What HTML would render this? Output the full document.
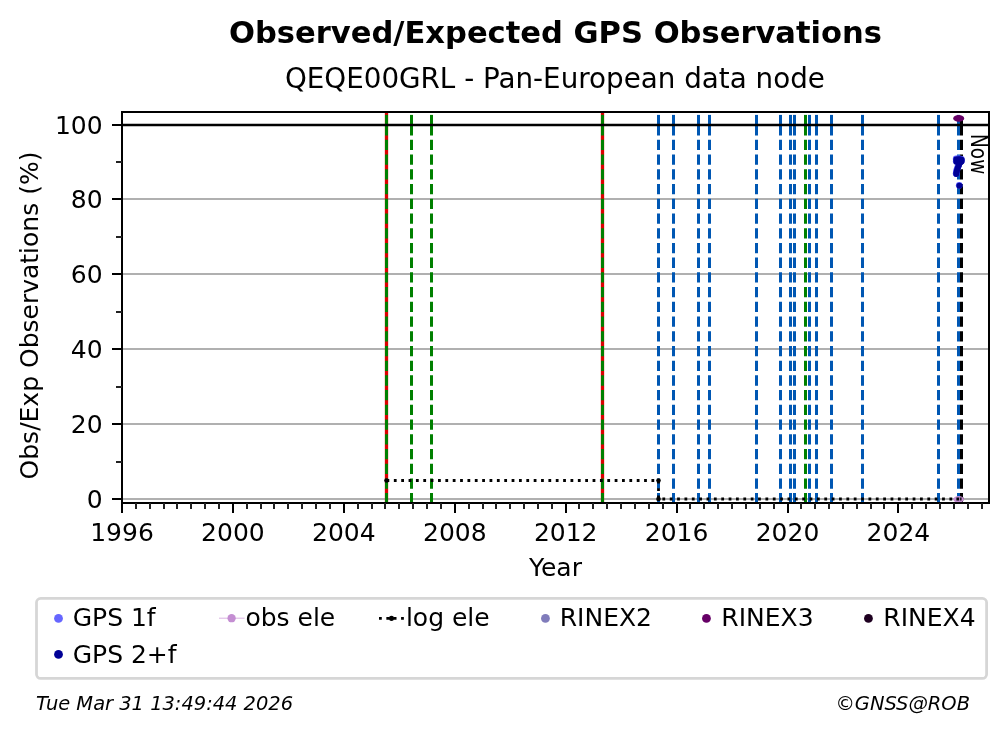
<!DOCTYPE html>
<html lang="en"><head><meta charset="utf-8"><title>Observed/Expected GPS Observations</title>
<style>html,body{margin:0;padding:0;background:#fff}svg{display:block;will-change:transform}</style></head>
<body>
<svg width="1008" height="734" viewBox="0 0 1008 734" font-family="'DejaVu Sans', 'Liberation Sans', sans-serif" fill="#000">
<rect width="1008" height="734" fill="#fff"/>
<g stroke="#b0b0b0" stroke-width="2" shape-rendering="crispEdges">
<line x1="122.0" x2="989.0" y1="199.0" y2="199.0"/>
<line x1="122.0" x2="989.0" y1="274.0" y2="274.0"/>
<line x1="122.0" x2="989.0" y1="349.0" y2="349.0"/>
<line x1="122.0" x2="989.0" y1="424.0" y2="424.0"/>
<line x1="122.0" x2="989.0" y1="499.0" y2="499.0"/>
</g>
<line x1="386.5" x2="386.5" y1="112.0" y2="503.0" stroke="#dc0000" stroke-width="3.3"/>
<line x1="602.5" x2="602.5" y1="112.0" y2="503.0" stroke="#dc0000" stroke-width="3.3"/>
<line x1="386.5" x2="386.5" y1="503.4" y2="125.1" stroke="#008000" stroke-width="3" stroke-dasharray="10.28 4.44"/>
<line x1="386.5" x2="386.5" y1="125.5" y2="114.9" stroke="#008000" stroke-width="3"/>
<line x1="602.5" x2="602.5" y1="503.4" y2="125.1" stroke="#008000" stroke-width="3" stroke-dasharray="10.28 4.44"/>
<line x1="602.5" x2="602.5" y1="125.5" y2="114.9" stroke="#008000" stroke-width="3"/>
<line x1="411.5" x2="411.5" y1="503.4" y2="125.1" stroke="#008000" stroke-width="3" stroke-dasharray="10.28 4.44"/>
<line x1="411.5" x2="411.5" y1="125.5" y2="114.9" stroke="#008000" stroke-width="3"/>
<line x1="431.5" x2="431.5" y1="503.4" y2="125.1" stroke="#008000" stroke-width="3" stroke-dasharray="10.28 4.44"/>
<line x1="431.5" x2="431.5" y1="125.5" y2="114.9" stroke="#008000" stroke-width="3"/>
<line x1="805.5" x2="805.5" y1="503.4" y2="125.1" stroke="#008000" stroke-width="3" stroke-dasharray="10.28 4.44"/>
<line x1="805.5" x2="805.5" y1="125.5" y2="114.9" stroke="#008000" stroke-width="3"/>
<line x1="658.5" x2="658.5" y1="503.4" y2="125.1" stroke="#0057b3" stroke-width="3" stroke-dasharray="10.28 4.44"/>
<line x1="658.5" x2="658.5" y1="125.5" y2="114.9" stroke="#0057b3" stroke-width="3"/>
<line x1="673.5" x2="673.5" y1="503.4" y2="125.1" stroke="#0057b3" stroke-width="3" stroke-dasharray="10.28 4.44"/>
<line x1="673.5" x2="673.5" y1="125.5" y2="114.9" stroke="#0057b3" stroke-width="3"/>
<line x1="698.5" x2="698.5" y1="503.4" y2="125.1" stroke="#0057b3" stroke-width="3" stroke-dasharray="10.28 4.44"/>
<line x1="698.5" x2="698.5" y1="125.5" y2="114.9" stroke="#0057b3" stroke-width="3"/>
<line x1="709.5" x2="709.5" y1="503.4" y2="125.1" stroke="#0057b3" stroke-width="3" stroke-dasharray="10.28 4.44"/>
<line x1="709.5" x2="709.5" y1="125.5" y2="114.9" stroke="#0057b3" stroke-width="3"/>
<line x1="756.5" x2="756.5" y1="503.4" y2="125.1" stroke="#0057b3" stroke-width="3" stroke-dasharray="10.28 4.44"/>
<line x1="756.5" x2="756.5" y1="125.5" y2="114.9" stroke="#0057b3" stroke-width="3"/>
<line x1="780.5" x2="780.5" y1="503.4" y2="125.1" stroke="#0057b3" stroke-width="3" stroke-dasharray="10.28 4.44"/>
<line x1="780.5" x2="780.5" y1="125.5" y2="114.9" stroke="#0057b3" stroke-width="3"/>
<line x1="790.5" x2="790.5" y1="503.4" y2="125.1" stroke="#0057b3" stroke-width="3" stroke-dasharray="10.28 4.44"/>
<line x1="790.5" x2="790.5" y1="125.5" y2="114.9" stroke="#0057b3" stroke-width="3"/>
<line x1="794.5" x2="794.5" y1="503.4" y2="125.1" stroke="#0057b3" stroke-width="3" stroke-dasharray="10.28 4.44"/>
<line x1="794.5" x2="794.5" y1="125.5" y2="114.9" stroke="#0057b3" stroke-width="3"/>
<line x1="809.5" x2="809.5" y1="503.4" y2="125.1" stroke="#0057b3" stroke-width="3" stroke-dasharray="10.28 4.44"/>
<line x1="809.5" x2="809.5" y1="125.5" y2="114.9" stroke="#0057b3" stroke-width="3"/>
<line x1="816.5" x2="816.5" y1="503.4" y2="125.1" stroke="#0057b3" stroke-width="3" stroke-dasharray="10.28 4.44"/>
<line x1="816.5" x2="816.5" y1="125.5" y2="114.9" stroke="#0057b3" stroke-width="3"/>
<line x1="831.5" x2="831.5" y1="503.4" y2="125.1" stroke="#0057b3" stroke-width="3" stroke-dasharray="10.28 4.44"/>
<line x1="831.5" x2="831.5" y1="125.5" y2="114.9" stroke="#0057b3" stroke-width="3"/>
<line x1="862.5" x2="862.5" y1="503.4" y2="125.1" stroke="#0057b3" stroke-width="3" stroke-dasharray="10.28 4.44"/>
<line x1="862.5" x2="862.5" y1="125.5" y2="114.9" stroke="#0057b3" stroke-width="3"/>
<line x1="938.5" x2="938.5" y1="503.4" y2="125.1" stroke="#0057b3" stroke-width="3" stroke-dasharray="10.28 4.44"/>
<line x1="938.5" x2="938.5" y1="125.5" y2="114.9" stroke="#0057b3" stroke-width="3"/>
<line x1="958.5" x2="958.5" y1="503.4" y2="125.1" stroke="#0057b3" stroke-width="3" stroke-dasharray="10.28 4.44"/>
<line x1="958.5" x2="958.5" y1="125.5" y2="114.9" stroke="#0057b3" stroke-width="3"/>
<line x1="961.5" x2="961.5" y1="503.4" y2="125.1" stroke="#000" stroke-width="3" stroke-dasharray="10.28 4.44"/>
<line x1="961.5" x2="961.5" y1="125.5" y2="117.5" stroke="#000" stroke-width="3"/>
<line x1="122.0" x2="989.0" y1="125" y2="125" stroke="#000" stroke-width="2.55"/>
<path d="M386.5 480.5H658.5V499H961.5" fill="none" stroke="#000" stroke-width="2.78" stroke-dasharray="2.78 4.58"/>
<circle cx="386.5" cy="480.5" r="2.3"/>
<circle cx="658.5" cy="480.5" r="2.3"/>
<circle cx="658.5" cy="499" r="2.3"/>
<circle cx="961.5" cy="499" r="2.3"/>
<ellipse cx="958.6" cy="499.3" rx="5.3" ry="3.3" fill="#c48ed2"/>
<path d="M956.4 499H961.5" fill="none" stroke="#000" stroke-width="2.78" stroke-dasharray="2.78 1.0"/>
<g fill="#5c5cff">
<circle cx="956.15" cy="158.95000000000002" r="3.35"/>
<circle cx="958.0500000000001" cy="158.75" r="3.35"/>
<circle cx="959.85" cy="158.85" r="3.35"/>
<circle cx="961.45" cy="159.25" r="3.35"/>
<circle cx="956.25" cy="161.25" r="3.35"/>
<circle cx="958.15" cy="161.65" r="3.35"/>
<circle cx="960.0500000000001" cy="161.55" r="3.35"/>
<circle cx="961.35" cy="161.05" r="3.35"/>
<circle cx="958.85" cy="164.25" r="3.35"/>
<circle cx="958.15" cy="166.05" r="3.35"/>
<circle cx="957.45" cy="168.05" r="3.35"/>
<circle cx="956.85" cy="169.95000000000002" r="3.35"/>
<circle cx="956.35" cy="171.85" r="3.35"/>
<circle cx="956.15" cy="173.55" r="3.35"/>
<circle cx="959.25" cy="185.35" r="3.35"/>
</g><g fill="#000096">
<circle cx="956.3" cy="159.4" r="3.0"/>
<circle cx="958.2" cy="159.2" r="3.0"/>
<circle cx="960.0" cy="159.29999999999998" r="3.0"/>
<circle cx="961.6" cy="159.7" r="3.0"/>
<circle cx="956.4" cy="161.7" r="3.0"/>
<circle cx="958.3" cy="162.1" r="3.0"/>
<circle cx="960.2" cy="162.0" r="3.0"/>
<circle cx="961.5" cy="161.5" r="3.0"/>
<circle cx="959.0" cy="164.7" r="3.0"/>
<circle cx="958.3" cy="166.5" r="3.0"/>
<circle cx="957.6" cy="168.5" r="3.0"/>
<circle cx="957.0" cy="170.4" r="3.0"/>
<circle cx="956.5" cy="172.29999999999998" r="3.0"/>
<circle cx="956.3" cy="174.0" r="3.0"/>
<circle cx="959.4" cy="185.79999999999998" r="3.0"/>
</g>
<ellipse cx="958.7" cy="118.4" rx="5.5" ry="3.4" fill="#660066"/>
<rect x="122.0" y="112.0" width="867.0" height="391.0" fill="none" stroke="#000" stroke-width="2" shape-rendering="crispEdges"/>
<g stroke="#000" stroke-width="2" shape-rendering="crispEdges">
<line x1="112.3" x2="122.0" y1="125.0" y2="125.0"/>
<line x1="112.3" x2="122.0" y1="199.0" y2="199.0"/>
<line x1="112.3" x2="122.0" y1="274.0" y2="274.0"/>
<line x1="112.3" x2="122.0" y1="349.0" y2="349.0"/>
<line x1="112.3" x2="122.0" y1="424.0" y2="424.0"/>
<line x1="112.3" x2="122.0" y1="499.0" y2="499.0"/>
<line x1="122" x2="122" y1="503.0" y2="512.8"/>
<line x1="233" x2="233" y1="503.0" y2="512.8"/>
<line x1="344" x2="344" y1="503.0" y2="512.8"/>
<line x1="455" x2="455" y1="503.0" y2="512.8"/>
<line x1="566" x2="566" y1="503.0" y2="512.8"/>
<line x1="677" x2="677" y1="503.0" y2="512.8"/>
<line x1="788" x2="788" y1="503.0" y2="512.8"/>
<line x1="898" x2="898" y1="503.0" y2="512.8"/>
</g><g stroke="#222" stroke-width="2" shape-rendering="crispEdges">
<line x1="116" x2="122.0" y1="162" y2="162"/>
<line x1="116" x2="122.0" y1="237" y2="237"/>
<line x1="116" x2="122.0" y1="312" y2="312"/>
<line x1="116" x2="122.0" y1="387" y2="387"/>
<line x1="116" x2="122.0" y1="462" y2="462"/>
<line x1="136" x2="136" y1="503.0" y2="508.7"/>
<line x1="150" x2="150" y1="503.0" y2="508.7"/>
<line x1="164" x2="164" y1="503.0" y2="508.7"/>
<line x1="177" x2="177" y1="503.0" y2="508.7"/>
<line x1="191" x2="191" y1="503.0" y2="508.7"/>
<line x1="205" x2="205" y1="503.0" y2="508.7"/>
<line x1="219" x2="219" y1="503.0" y2="508.7"/>
<line x1="247" x2="247" y1="503.0" y2="508.7"/>
<line x1="261" x2="261" y1="503.0" y2="508.7"/>
<line x1="274" x2="274" y1="503.0" y2="508.7"/>
<line x1="288" x2="288" y1="503.0" y2="508.7"/>
<line x1="302" x2="302" y1="503.0" y2="508.7"/>
<line x1="316" x2="316" y1="503.0" y2="508.7"/>
<line x1="330" x2="330" y1="503.0" y2="508.7"/>
<line x1="358" x2="358" y1="503.0" y2="508.7"/>
<line x1="372" x2="372" y1="503.0" y2="508.7"/>
<line x1="385" x2="385" y1="503.0" y2="508.7"/>
<line x1="399" x2="399" y1="503.0" y2="508.7"/>
<line x1="413" x2="413" y1="503.0" y2="508.7"/>
<line x1="427" x2="427" y1="503.0" y2="508.7"/>
<line x1="441" x2="441" y1="503.0" y2="508.7"/>
<line x1="469" x2="469" y1="503.0" y2="508.7"/>
<line x1="483" x2="483" y1="503.0" y2="508.7"/>
<line x1="496" x2="496" y1="503.0" y2="508.7"/>
<line x1="510" x2="510" y1="503.0" y2="508.7"/>
<line x1="524" x2="524" y1="503.0" y2="508.7"/>
<line x1="538" x2="538" y1="503.0" y2="508.7"/>
<line x1="552" x2="552" y1="503.0" y2="508.7"/>
<line x1="579" x2="579" y1="503.0" y2="508.7"/>
<line x1="593" x2="593" y1="503.0" y2="508.7"/>
<line x1="607" x2="607" y1="503.0" y2="508.7"/>
<line x1="621" x2="621" y1="503.0" y2="508.7"/>
<line x1="635" x2="635" y1="503.0" y2="508.7"/>
<line x1="649" x2="649" y1="503.0" y2="508.7"/>
<line x1="663" x2="663" y1="503.0" y2="508.7"/>
<line x1="690" x2="690" y1="503.0" y2="508.7"/>
<line x1="704" x2="704" y1="503.0" y2="508.7"/>
<line x1="718" x2="718" y1="503.0" y2="508.7"/>
<line x1="732" x2="732" y1="503.0" y2="508.7"/>
<line x1="746" x2="746" y1="503.0" y2="508.7"/>
<line x1="760" x2="760" y1="503.0" y2="508.7"/>
<line x1="774" x2="774" y1="503.0" y2="508.7"/>
<line x1="801" x2="801" y1="503.0" y2="508.7"/>
<line x1="815" x2="815" y1="503.0" y2="508.7"/>
<line x1="829" x2="829" y1="503.0" y2="508.7"/>
<line x1="843" x2="843" y1="503.0" y2="508.7"/>
<line x1="857" x2="857" y1="503.0" y2="508.7"/>
<line x1="871" x2="871" y1="503.0" y2="508.7"/>
<line x1="884" x2="884" y1="503.0" y2="508.7"/>
<line x1="912" x2="912" y1="503.0" y2="508.7"/>
<line x1="926" x2="926" y1="503.0" y2="508.7"/>
<line x1="940" x2="940" y1="503.0" y2="508.7"/>
<line x1="954" x2="954" y1="503.0" y2="508.7"/>
<line x1="968" x2="968" y1="503.0" y2="508.7"/>
<line x1="982" x2="982" y1="503.0" y2="508.7"/>
</g>
<g font-size="25">
<text x="102.6" y="134.3" text-anchor="end">100</text>
<text x="102.6" y="208.3" text-anchor="end">80</text>
<text x="102.6" y="283.3" text-anchor="end">60</text>
<text x="102.6" y="358.3" text-anchor="end">40</text>
<text x="102.6" y="433.3" text-anchor="end">20</text>
<text x="102.6" y="508.3" text-anchor="end">0</text>
<text x="122.0" y="541" text-anchor="middle">1996</text>
<text x="232.9" y="541" text-anchor="middle">2000</text>
<text x="343.8" y="541" text-anchor="middle">2004</text>
<text x="454.8" y="541" text-anchor="middle">2008</text>
<text x="565.7" y="541" text-anchor="middle">2012</text>
<text x="676.6" y="541" text-anchor="middle">2016</text>
<text x="787.5" y="541" text-anchor="middle">2020</text>
<text x="898.4" y="541" text-anchor="middle">2024</text>
<text x="555.5" y="575.6" text-anchor="middle">Year</text>
<text transform="translate(38.2 315.5) rotate(-90)" text-anchor="middle">Obs/Exp Observations (%)</text>
</g>
<text x="555.5" y="43.3" text-anchor="middle" font-size="30.56" font-weight="bold">Observed/Expected GPS Observations</text>
<text x="554.9" y="87.9" text-anchor="middle" font-size="27.78">QEQE00GRL - Pan-European data node</text>
<text transform="translate(971.1 134.0) rotate(90) scale(0.8 1)" font-size="23.15">Now</text>
<rect x="36.5" y="598.4" width="950.1" height="80" rx="4.2" fill="#fff" stroke="#d6d6d6" stroke-width="2.78"/>
<circle cx="58.5" cy="618.4" r="4.4" fill="#6666ff"/>
<circle cx="58.5" cy="654.4" r="4.4" fill="#000096"/>
<circle cx="545.45" cy="618.45" r="4.4" fill="#807cbb"/>
<circle cx="706.45" cy="618.45" r="4.4" fill="#660066"/>
<circle cx="868.45" cy="618.45" r="4.4" fill="#1e0020"/>
<line x1="219" x2="244.6" y1="618.2" y2="618.2" stroke="#d9b3e2" stroke-width="1"/>
<circle cx="231.6" cy="618.2" r="4.15" fill="#c48ed2"/>
<line x1="379" x2="404" y1="618.3" y2="618.3" stroke="#000" stroke-width="2.78" stroke-dasharray="2.78 4.58"/>
<circle cx="391.5" cy="618.3" r="2.6"/>
<g font-size="25">
<text x="72.7" y="626">GPS 1f</text>
<text x="72.7" y="662.6">GPS 2+f</text>
<text x="245.4" y="626">obs ele</text>
<text x="405.9" y="626">log ele</text>
<text x="559.75" y="626">RINEX2</text>
<text x="721.35" y="626">RINEX3</text>
<text x="883.35" y="626">RINEX4</text>
</g>
<g font-size="19.44" font-style="oblique">
<text x="36" y="710">Tue Mar 31 13:49:44 2026</text>
<text x="970" y="709.6" text-anchor="end">©GNSS@ROB</text>
</g>
</svg>
</body></html>
